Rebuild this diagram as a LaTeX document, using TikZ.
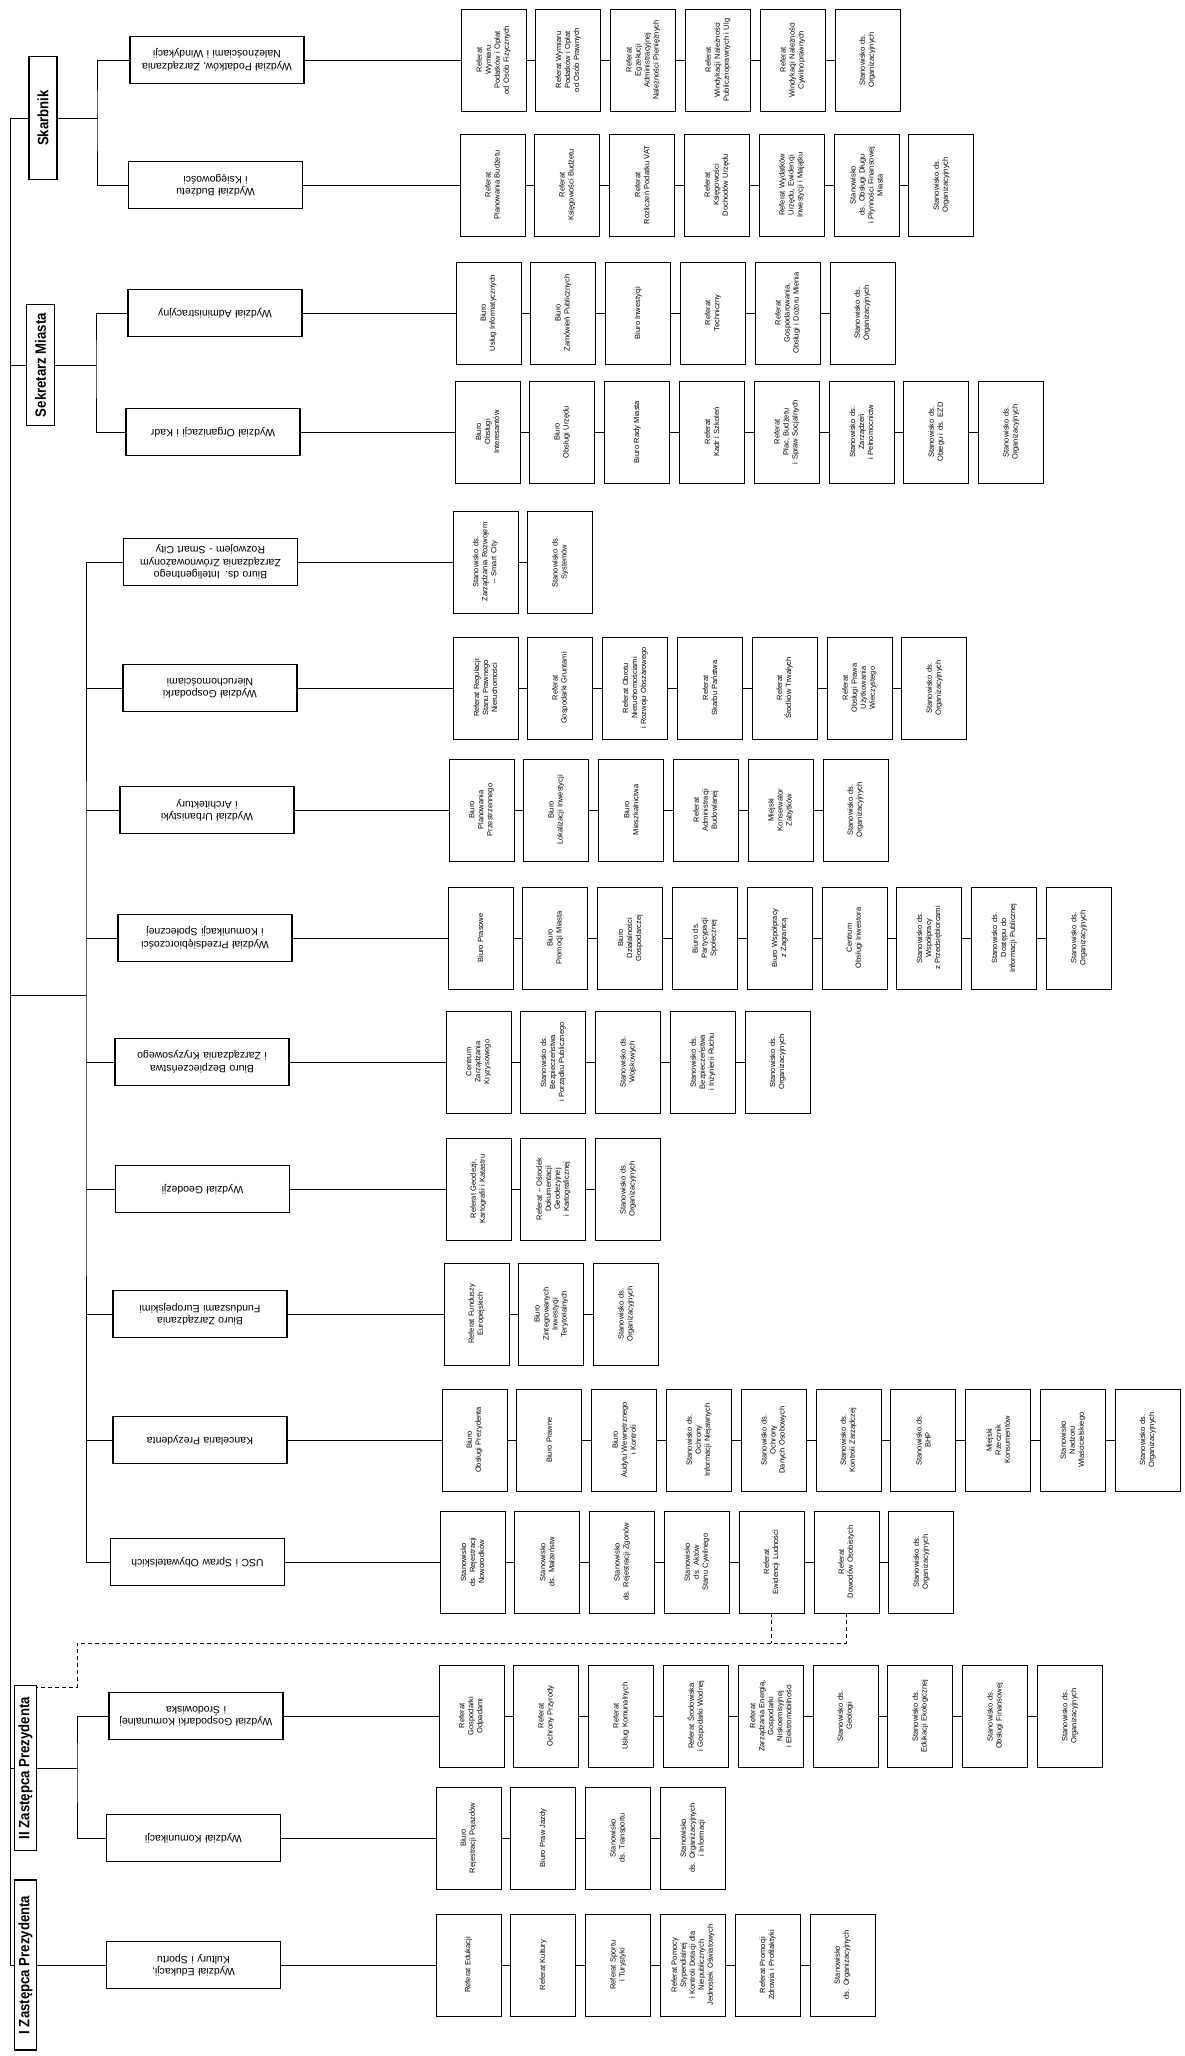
\documentclass[tikz,border=0pt]{standalone}
\usepackage{fontspec}
\setmainfont{Liberation Sans}
\newfontfamily\groupfont[FakeStretch=0.88]{Liberation Sans}

% rząd komórek: nazwa wydziału, x pierwszej komórki, y, lista
\newcommand{\unitrow}[4]{%
  \foreach \txt [count=\i] in {#4} {
    \node[unit] (#1-\i) at ({#2+(\i-1)*74.8}, #3) {\txt};
    \ifnum\i>1
      \pgfmathtruncatemacro\j{\i-1}
      \draw[link] (#1-\j) -- (#1-\i);
    \fi
  }
  \draw[link] (#1) -- (#1-1);
}

\begin{document}
\begin{tikzpicture}[
  x=1pt, y=-1pt,
  head/.style={draw, line width=1.4pt, rotate=90, minimum height=28pt, inner sep=2pt, font=\groupfont\bfseries\fontsize{15}{17}\selectfont},
  dept/.style={draw, line width=1.4pt, rotate=180, minimum width=174pt, minimum height=47pt, text width=166pt, align=center, inner sep=2pt, font=\fontsize{10.5}{12.5}\selectfont},
  unit/.style={draw, line width=0.9pt, rotate=90, minimum width=102pt, minimum height=65pt, text width=94pt, align=center, inner sep=2pt, font=\fontsize{7.5}{9}\selectfont},
  link/.style={line width=0.9pt},
  dashlink/.style={line width=0.9pt, dash pattern=on 4pt off 3pt}
]
  \useasboundingbox[fill=white] (0,0) rectangle (1184,2056);

  % Kierownictwo
  \node[head, minimum width=123pt] (skarb) at (43, 118) {Skarbnik};
  \node[head, minimum width=121pt] (sekr) at (40.5, 365) {Sekretarz Miasta};
  \node[head, minimum width=165pt, minimum height=22pt] (zast2) at (25.5, 1768) {II Zastępca Prezydenta};
  \node[head, minimum width=170pt, minimum height=22pt] (zast1) at (25.5, 1965) {I Zastępca Prezydenta};

  % Wydziały i biura
  \node[dept] (podat) at (217, 60) {Wydział Podatków, Zarządzania\\Należnościami i Windykacji};
  \node[dept] (budz) at (215.5, 185) {Wydział Budżetu\\i Księgowości};
  \node[dept] (admin) at (215, 313) {Wydział Administracyjny};
  \node[dept] (kadry) at (213, 432) {Wydział Organizacji i Kadr};
  \node[dept] (smart) at (210.5, 562) {Biuro ds. Inteligentnego\\Zarządzania Zrównoważonym\\Rozwojem - Smart City};
  \node[dept] (nieruch) at (210, 688) {Wydział Gospodarki\\Nieruchomościami};
  \node[dept] (urban) at (207, 810) {Wydział Urbanistyki\\i Architektury};
  \node[dept] (przeds) at (205, 938) {Wydział Przedsiębiorczości\\i Komunikacji Społecznej};
  \node[dept] (bezp) at (202, 1062) {Biuro Bezpieczeństwa\\i Zarządzania Kryzysowego};
  \node[dept] (geod) at (202.5, 1189) {Wydział Geodezji};
  \node[dept] (fund) at (200, 1314) {Biuro Zarządzania\\Funduszami Europejskimi};
  \node[dept] (kanc) at (200, 1440) {Kancelaria Prezydenta};
  \node[dept] (usc) at (197.5, 1562) {USC i Spraw Obywatelskich};
  \node[dept] (komun) at (196, 1716) {Wydział Gospodarki Komunalnej\\i Środowiska};
  \node[dept] (komunik) at (193.5, 1838) {Wydział Komunikacji};
  \node[dept] (eduk) at (193.5, 1965) {Wydział Edukacji,\\Kultury i Sportu};

  % Linie podległości
  \coordinate (trunkT) at (10, 118);
  \coordinate (sbus) at (97, 118);
  \coordinate (kbus) at (96, 365);
  \coordinate (pbus) at (86, 995);
  \coordinate (zbus) at (77, 1768);
  \draw[link] (trunkT) -- (zast1 -| trunkT);
  \draw[link] (skarb -| trunkT) -- (skarb);
  \draw[link] (sekr -| trunkT) -- (sekr);
  \draw[link] (pbus -| trunkT) -- (pbus);
  \draw[link] (zast2 -| trunkT) -- (zast2);
  \draw[link] (zast1 -| trunkT) -- (zast1);

  \draw[link] (skarb) -- (sbus);
  \draw[link] (podat) -| (sbus) |- (budz);
  \draw[link] (sekr) -- (kbus);
  \draw[link] (admin) -| (kbus) |- (kadry);
  \draw[link] (smart) -| (pbus) |- (usc);
  \foreach \d in {nieruch, urban, przeds, bezp, geod, fund, kanc}
    \draw[link] (\d) -- (\d -| pbus);
  \draw[link] (zast2) -- (zbus);
  \draw[link] (komun) -| (zbus) |- (komunik);
  \draw[link] (zast1) -- (eduk);

  % Komórki organizacyjne
  \unitrow{podat}{493.5}{60}{Referat\\Wymiaru\\Podatków i Opłat\\od Osób Fizycznych, Referat Wymiaru\\Podatków i Opłat\\od Osób Prawnych, Referat\\Egzekucji\\Administracyjnej\\Należności Pieniężnych, Referat\\Windykacji Należności\\Publicznoprawnych i Ulg, Referat\\Windykacji Należności\\Cywilnoprawnych, Stanowisko ds.\\Organizacyjnych}
  \unitrow{budz}{492.5}{185}{Referat\\Planowania Budżetu, Referat\\Księgowości Budżetu, Referat\\Rozliczeń Podatku VAT, Referat\\Księgowości\\Dochodów Urzędu, {Referat Wydatków\\Urzędu, Ewidencji\\Inwestycji i Majątku}, Stanowisko\\ds. Obsługi Długu\\i Płynności Finansowej\\Miasta, Stanowisko ds.\\Organizacyjnych}
  \unitrow{admin}{488.5}{313}{Biuro\\Usług Informatycznych, Biuro\\Zamówień Publicznych, Biuro Inwestycji, Referat\\Techniczny, {Referat\\Gospodarowania,\\Obsługi i Dozoru Mienia}, Stanowisko ds.\\Organizacyjnych}
  \unitrow{kadry}{487.5}{432}{Biuro\\Obsługi\\Interesantów, Biuro\\Obsługi Urzędu, Biuro Rady Miasta, Referat\\Kadr i Szkoleń, {Referat\\Płac, Budżetu\\i Spraw Socjalnych}, Stanowisko ds.\\Zarządzeń\\i Pełnomocnictw, Stanowisko ds.\\Obiegu i ds. EZD, Stanowisko ds.\\Organizacyjnych}
  \unitrow{smart}{485.5}{562}{Stanowisko ds.\\Zarządzania Rozwojem\\– Smart City, Stanowisko ds.\\Systemów}
  \unitrow{nieruch}{485.5}{688}{Referat Regulacji\\Stanu Prawnego\\Nieruchomości, Referat\\Gospodarki Gruntami, Referat Obrotu\\Nieruchomościami\\i Rozwoju Obszarowego, Referat\\Skarbu Państwa, Referat\\Środków Trwałych, Referat\\Obsługi Prawa\\Użytkowania\\Wieczystego, Stanowisko ds.\\Organizacyjnych}
  \unitrow{urban}{481.5}{810}{Biuro\\Planowania\\Przestrzennego, Biuro\\Lokalizacji Inwestycji, Biuro\\Mieszkalnictwa, Referat\\Administracji\\Budowlanej, Miejski\\Konserwator\\Zabytków, Stanowisko ds.\\Organizacyjnych}
  \unitrow{przeds}{480.5}{938}{Biuro Prasowe, Biuro\\Promocji Miasta, Biuro\\Działalności\\Gospodarczej, Biuro ds.\\Partycypacji\\Społecznej, Biuro Współpracy\\z Zagranicą, Centrum\\Obsługi Inwestora, Stanowisko ds.\\Współpracy\\z Przedsiębiorcami, Stanowisko ds.\\Dostępu do\\Informacji Publicznej, Stanowisko ds.\\Organizacyjnych}
  \unitrow{bezp}{478.5}{1062}{Centrum\\Zarządzania\\Kryzysowego, Stanowisko ds.\\Bezpieczeństwa\\i Porządku Publicznego, Stanowisko ds.\\Wojskowych, Stanowisko ds.\\Bezpieczeństwa\\i Inżynierii Ruchu, Stanowisko ds.\\Organizacyjnych}
  \unitrow{geod}{478.5}{1189}{{Referat Geodezji,\\Kartografii i Katastru}, Referat – Ośrodek\\Dokumentacji\\Geodezyjnej\\i Kartograficznej, Stanowisko ds.\\Organizacyjnych}
  \unitrow{fund}{476.5}{1314}{Referat Funduszy\\Europejskich, Biuro\\Zintegrowanych\\Inwestycji\\Terytorialnych, Stanowisko ds.\\Organizacyjnych}
  \unitrow{kanc}{474.5}{1440}{Biuro\\Obsługi Prezydenta, Biuro Prawne, Biuro\\Audytu Wewnętrznego\\i Kontroli, Stanowisko ds.\\Ochrony\\Informacji Niejawnych, Stanowisko ds.\\Ochrony\\Danych Osobowych, Stanowisko ds.\\Kontroli Zarządczej, Stanowisko ds.\\BHP, Miejski\\Rzecznik\\Konsumentów, Stanowisko\\Nadzoru\\Właścicielskiego, Stanowisko ds.\\Organizacyjnych}
  \unitrow{usc}{472.5}{1562}{Stanowisko\\ds. Rejestracji\\Noworodków, Stanowisko\\ds. Małżeństw, Stanowisko\\ds. Rejestracji Zgonów, Stanowisko\\ds. Aktów\\Stanu Cywilnego, Referat\\Ewidencji Ludności, Referat\\Dowodów Osobistych, Stanowisko ds.\\Organizacyjnych}
  \unitrow{komun}{471.5}{1716}{Referat\\Gospodarki\\Odpadami, Referat\\Ochrony Przyrody, Referat\\Usług Komunalnych, Referat Środowiska\\i Gospodarki Wodnej, {Referat\\Zarządzania Energią,\\Gospodarki\\Niskoemisyjnej\\i Elektromobilności}, Stanowisko ds.\\Geologii, Stanowisko ds.\\Edukacji Ekologicznej, Stanowisko ds.\\Obsługi Finansowej, Stanowisko ds.\\Organizacyjnych}
  \unitrow{komunik}{468.5}{1838}{Biuro\\Rejestracji Pojazdów, Biuro Praw Jazdy, Stanowisko\\ds. Transportu, Stanowisko\\ds. Organizacyjnych\\i Informacji}
  \unitrow{eduk}{468.5}{1965}{Referat Edukacji, Referat Kultury, Referat Sportu\\i Turystyki, Referat Pomocy\\Stypendialnej\\i Kontroli Dotacji dla\\Niepublicznych\\Jednostek Oświatowych, Referat Promocji\\Zdrowia i Profilaktyki, Stanowisko\\ds. Organizacyjnych}

  % Powiązanie z USC (linia przerywana)
  \coordinate (dashA) at (77, 1643);
  \coordinate (dashB) at (77, 1687);
  \draw[dashlink] (usc-6) |- (dashA) -- (dashB) -- (dashB -| zast2.south);
  \draw[dashlink] (usc-5) -- (usc-5 |- dashA);
\end{tikzpicture}
\end{document}
